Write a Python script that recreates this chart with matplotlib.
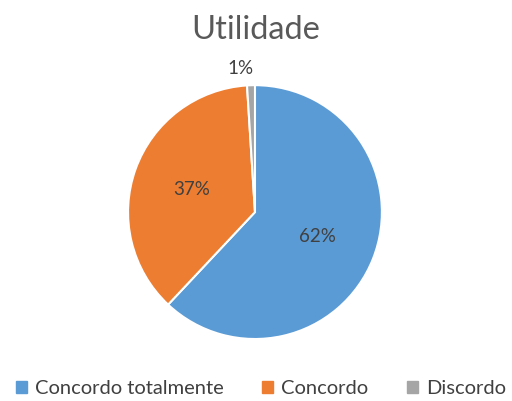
import numpy as np
import matplotlib.pyplot as plt

title = "Utilidade"
labels = ["Concordo totalmente", "Concordo", "Discordo"]
values = [62, 37, 1]
colors = ["#5B9BD5", "#ED7D31", "#A5A5A5"]

plt.rcParams["font.family"] = ["Lato", "DejaVu Sans"]

fig = plt.figure(figsize=(5.12, 4.01), dpi=100)
ax = fig.add_axes([0.25, 0.1546, 0.496, 0.633])

wedges, texts, autotexts = ax.pie(
    values, colors=colors, startangle=90, counterclock=False,
    autopct=lambda p: "%d%%" % round(p), pctdistance=0.53,
    wedgeprops=dict(edgecolor="white", linewidth=1.5),
    textprops=dict(color="#404040", fontsize=13.5),
)
ax.set_xlim(-1, 1)
ax.set_ylim(-1, 1)
ax.set_aspect("equal")

# small slice label goes outside
w = wedges[-1]
ang = np.deg2rad((w.theta1 + w.theta2) / 2)
autotexts[-1].set_position((1.13 * np.cos(ang) - 0.08, 1.13 * np.sin(ang)))

fig.text(0.5, 0.925, title, ha="center", va="center", fontsize=23.5, color="#595959")

handles = [plt.Rectangle((0, 0), 1, 1, color=c) for c in colors]
fig.legend(handles, labels, loc="center", bbox_to_anchor=(0.51, 0.03), ncol=3,
           frameon=False, fontsize=14.5, handlelength=0.55, handleheight=0.55,
           handletextpad=0.4, columnspacing=1.9, labelcolor="#404040")

fig.savefig("out.png", dpi=100)
